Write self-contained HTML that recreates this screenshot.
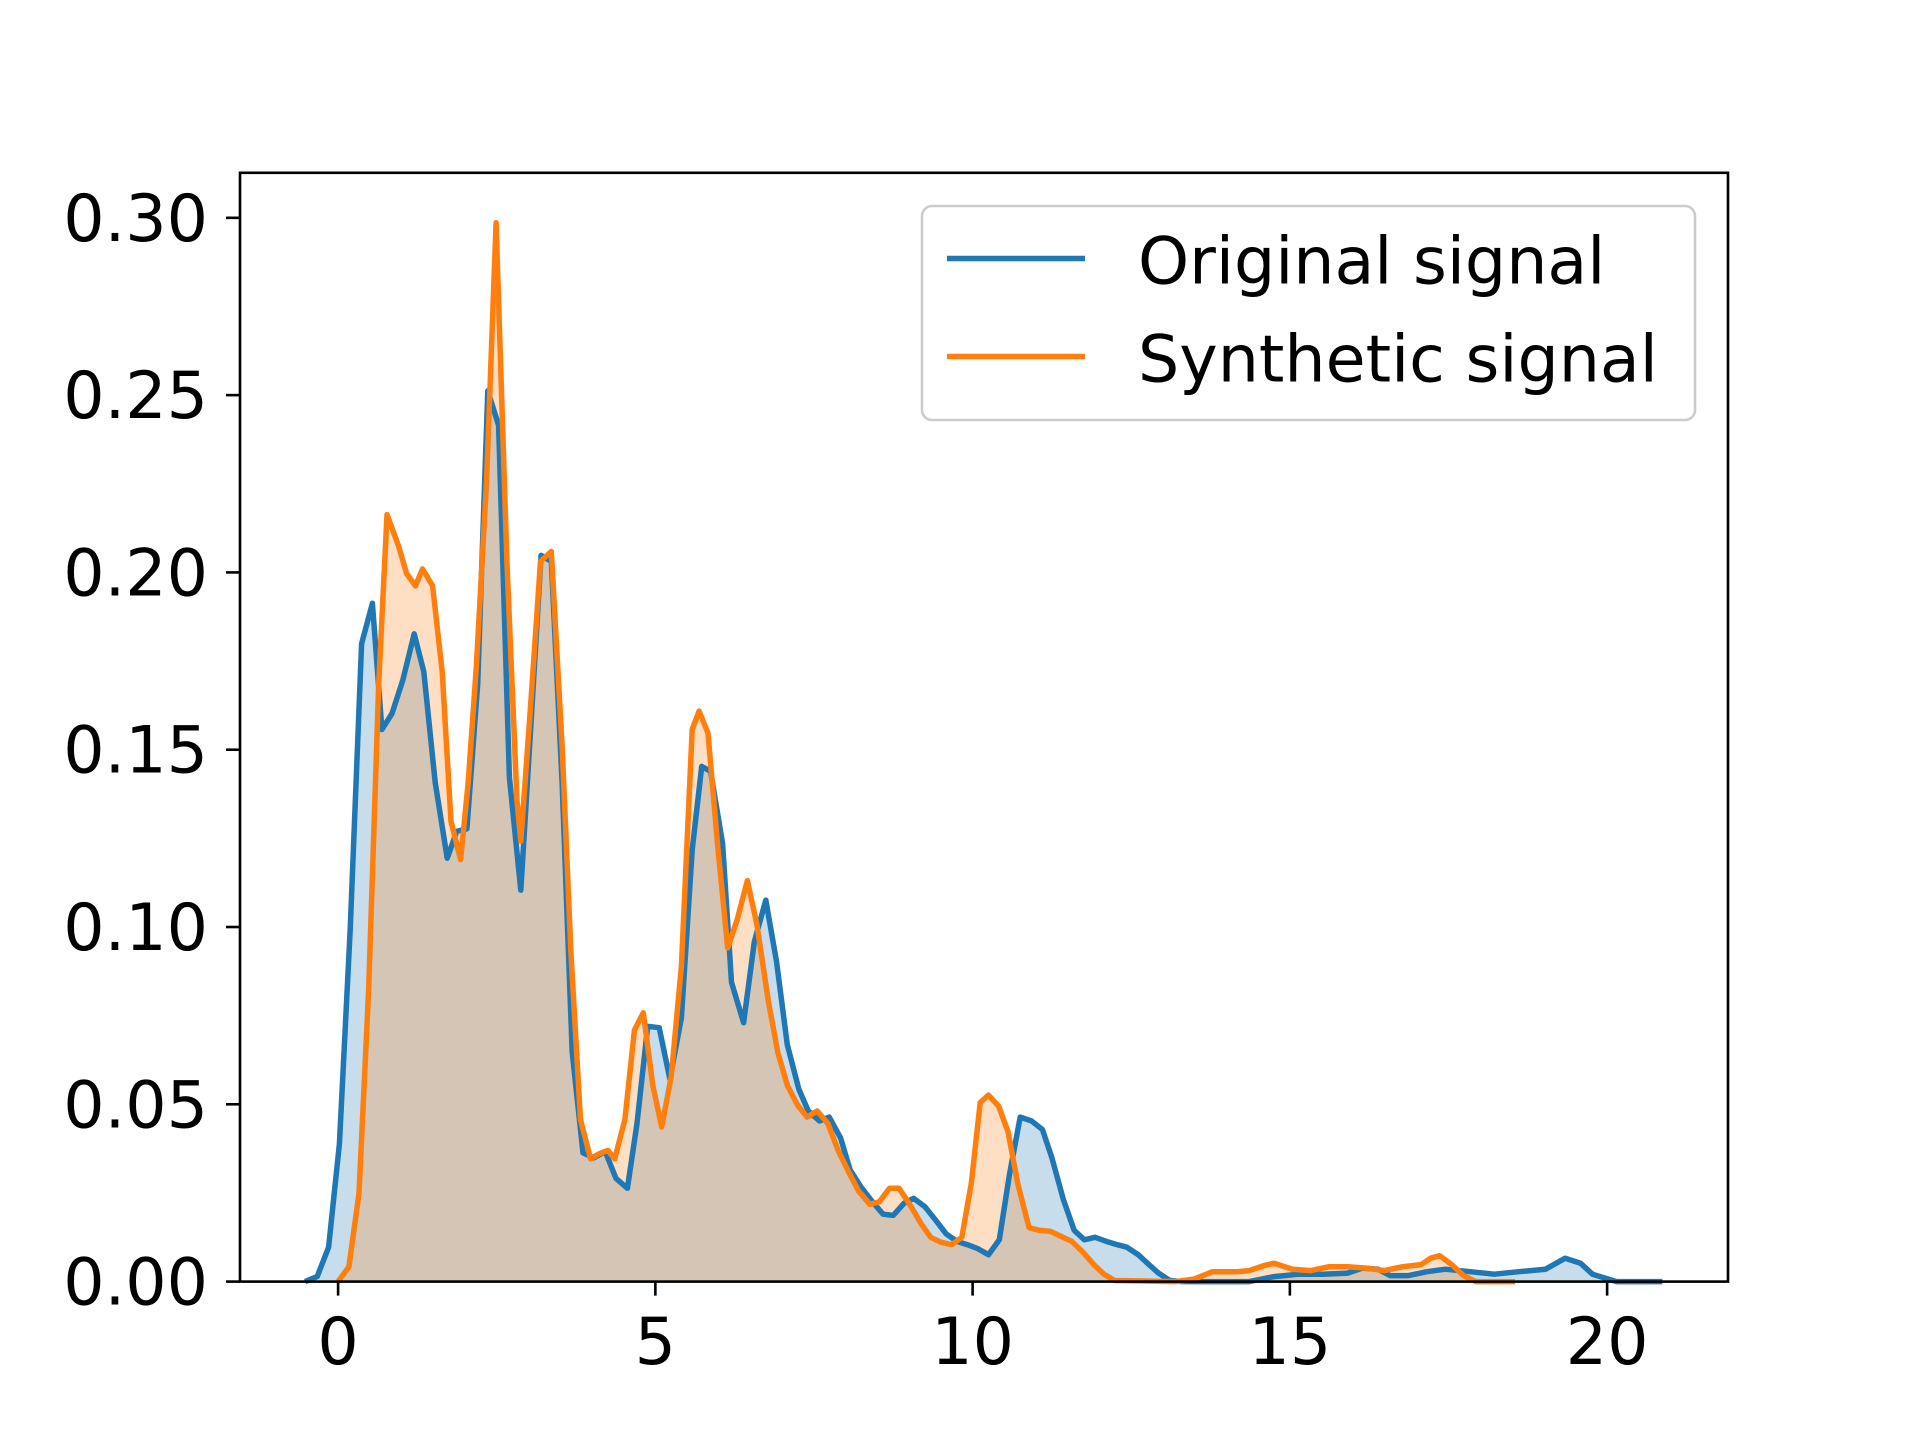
<!DOCTYPE html>
<html><head><meta charset="utf-8"><style>
html,body{margin:0;padding:0;background:#fff;}
svg{display:block;}
text{font-family:"DejaVu Sans","Liberation Sans",sans-serif;fill:#000;}
</style></head><body>
<svg id="chart" width="1920" height="1440" viewBox="0 0 1920 1440" xmlns="http://www.w3.org/2000/svg">
<rect width="1920" height="1440" fill="#fff"/>
<g id="plot"></g>
<g id="axes"></g>
<g id="legend"></g>
</svg>
<script>
const origX=[-0.52,-0.33,-0.15,0.02,0.19,0.37,0.54,0.69,0.85,1.02,1.20,1.35,1.53,1.72,1.87,2.03,2.20,2.36,2.53,2.70,2.88,3.03,3.20,3.36,3.53,3.69,3.86,4.03,4.21,4.38,4.56,4.71,4.88,5.06,5.23,5.41,5.58,5.73,5.87,6.06,6.20,6.39,6.56,6.74,6.91,7.08,7.26,7.41,7.59,7.74,7.92,8.07,8.24,8.42,8.59,8.75,8.92,9.07,9.25,9.42,9.58,9.75,9.92,10.08,10.25,10.42,10.58,10.75,10.93,11.10,11.25,11.43,11.60,11.76,11.93,12.10,12.28,12.43,12.61,12.78,12.93,13.11,13.30,14.36,14.75,15.14,15.52,15.91,16.14,16.39,16.58,16.87,17.16,17.45,17.84,18.22,18.61,19.03,19.34,19.58,19.77,20.15,20.87];
const origY=[0,0.0014,0.0097,0.0388,0.0993,0.1799,0.1913,0.1557,0.1602,0.1696,0.1827,0.1720,0.1408,0.1194,0.1270,0.1277,0.1685,0.2512,0.2415,0.1422,0.1104,0.1547,0.2048,0.2031,0.1408,0.0647,0.0363,0.0349,0.0367,0.0291,0.0263,0.0446,0.0720,0.0716,0.0571,0.0744,0.1218,0.1453,0.1439,0.1235,0.0844,0.0730,0.0958,0.1076,0.0903,0.0668,0.0543,0.0481,0.0453,0.0464,0.0405,0.0315,0.0267,0.0225,0.0190,0.0187,0.0221,0.0235,0.0211,0.0173,0.0135,0.0114,0.0104,0.0093,0.0076,0.0118,0.0301,0.0464,0.0453,0.0429,0.0349,0.0232,0.0145,0.0118,0.0125,0.0114,0.0104,0.0097,0.0076,0.0048,0.0024,0.0003,0,0,0.0014,0.0021,0.0021,0.0024,0.0038,0.0035,0.0017,0.0017,0.0028,0.0035,0.0028,0.0021,0.0028,0.0035,0.0066,0.0052,0.0021,0,0];
const synX=[0.00,0.17,0.33,0.48,0.64,0.77,0.95,1.08,1.22,1.33,1.49,1.64,1.78,1.93,2.05,2.18,2.34,2.49,2.66,2.82,2.88,3.03,3.19,3.36,3.53,3.67,3.82,3.98,4.11,4.25,4.36,4.52,4.67,4.81,4.96,5.10,5.25,5.41,5.58,5.69,5.83,5.98,6.14,6.29,6.45,6.60,6.78,6.93,7.08,7.24,7.39,7.55,7.72,7.88,8.05,8.20,8.38,8.53,8.69,8.84,9.02,9.19,9.34,9.50,9.67,9.83,9.98,10.12,10.25,10.41,10.56,10.71,10.89,11.04,11.22,11.39,11.56,11.74,11.91,12.07,12.24,13.20,13.49,13.78,14.17,14.36,14.59,14.75,15.04,15.33,15.62,15.91,16.20,16.49,16.78,17.07,17.22,17.36,17.55,17.74,17.93,18.55];
const synY=[0,0.0042,0.0249,0.0820,0.1685,0.2163,0.2076,0.1997,0.1962,0.2010,0.1962,0.1720,0.1298,0.1190,0.1408,0.1737,0.2260,0.2986,0.2031,0.1356,0.1242,0.1616,0.2031,0.2059,0.1512,0.0924,0.0457,0.0346,0.0360,0.0370,0.0346,0.0457,0.0709,0.0758,0.0554,0.0436,0.0578,0.0889,0.1557,0.1609,0.1547,0.1235,0.0941,0.1021,0.1131,0.1007,0.0792,0.0647,0.0554,0.0498,0.0464,0.0481,0.0446,0.0370,0.0308,0.0256,0.0218,0.0225,0.0263,0.0263,0.0215,0.0163,0.0125,0.0111,0.0104,0.0125,0.0277,0.0505,0.0526,0.0495,0.0422,0.0277,0.0152,0.0145,0.0142,0.0128,0.0114,0.0083,0.0048,0.0021,0.0003,0,0.0007,0.0028,0.0028,0.0031,0.0045,0.0052,0.0035,0.0031,0.0042,0.0042,0.0038,0.0031,0.0042,0.0048,0.0066,0.0073,0.0048,0.0017,0,0];
const xTicks=[0,5,10,15,20];
const yTicks=[0,0.05,0.10,0.15,0.20,0.25,0.30];
const yTickLabels=["0.00","0.05","0.10","0.15","0.20","0.25","0.30"];
const seriesNames=["Original signal","Synthetic signal"];

const NS="http://www.w3.org/2000/svg";
const L=240,R=1728,T=172.8,B=1281.6;
const xMin=-1.546,xMax=21.905,yMin=0,yMax=0.3127;
function sx(v){return L+(v-xMin)/(xMax-xMin)*(R-L);}
function sy(v){return B-(v-yMin)/(yMax-yMin)*(B-T);}
function mk(tag,attrs,parent){const e=document.createElementNS(NS,tag);for(const k in attrs)e.setAttribute(k,attrs[k]);parent.appendChild(e);return e;}
const plot=document.getElementById('plot'),axes=document.getElementById('axes'),leg=document.getElementById('legend');

function drawSeries(xs,ys,color,name){
  let line=xs.map((x,i)=>(i?'L':'M')+sx(x).toFixed(1)+','+sy(ys[i]).toFixed(1)).join(' ');
  let area=line+' L'+sx(xs[xs.length-1]).toFixed(1)+','+sy(0)+' L'+sx(xs[0]).toFixed(1)+','+sy(0)+' Z';
  const a=mk('path',{d:area,fill:color,'fill-opacity':0.25,stroke:'none'},plot);
  
  
  return line;
}
const l1=drawSeries(origX,origY,'#1f77b4','original-signal');
const l2=drawSeries(synX,synY,'#ff7f0e','synthetic-signal');
const p1=mk('path',{d:l1,fill:'none',stroke:'#1f77b4','stroke-width':5.5,'stroke-linejoin':'round'},plot);


const p2=mk('path',{d:l2,fill:'none',stroke:'#ff7f0e','stroke-width':5.5,'stroke-linejoin':'round'},plot);



const frame=mk('rect',{x:L,y:T,width:R-L,height:B-T,fill:'none',stroke:'#000','stroke-width':2.6},axes);


xTicks.forEach(v=>{
  const t=mk('line',{x1:sx(v),x2:sx(v),y1:B,y2:B+14,stroke:'#000','stroke-width':2.6},axes);
  
  
  const tx=mk('text',{x:sx(v),y:1364,'text-anchor':'middle','font-size':65},axes);
  tx.textContent=String(v);
  
  
});
yTicks.forEach((v,i)=>{
  const t=mk('line',{x1:L-14,x2:L,y1:sy(v),y2:sy(v),stroke:'#000','stroke-width':2.6},axes);
  
  
  const tx=mk('text',{x:208,y:sy(v)+23,'text-anchor':'end','font-size':65},axes);
  tx.textContent=yTickLabels[i];
  
  
});

const box=mk('rect',{x:922,y:206,width:773,height:214,rx:10,fill:'#fff','fill-opacity':0.8,stroke:'#cccccc','stroke-width':2.6},leg);


const cols=['#1f77b4','#ff7f0e'];
seriesNames.forEach((n,i)=>{
  const y=258.5+i*98;
  const ln=mk('line',{x1:947,x2:1085,y1:y,y2:y,stroke:cols[i],'stroke-width':5.5},leg);
  
  
  const tx=mk('text',{x:1138,y:y+25,'font-size':65},leg);
  tx.textContent=n;
  
  
});
</script>
</body></html>
